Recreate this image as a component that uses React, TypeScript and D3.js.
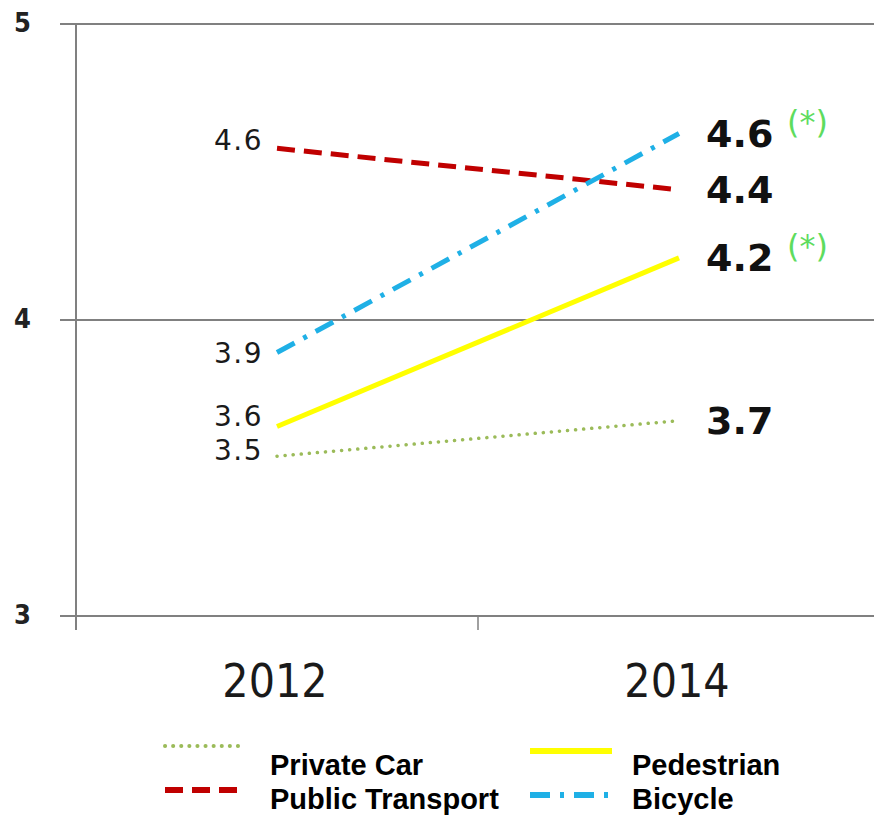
import React from "react";
import * as d3 from "d3";

const years = ["2012", "2014"];
const seriesNames = ["Private Car", "Public Transport", "Pedestrian", "Bicycle"];
const privateCar = [3.54, 3.66];
const publicTransport = [4.58, 4.44];
const pedestrian = [3.64, 4.21];
const bicycle = [3.89, 4.63];
const startLabels = ["3.5", "4.6", "3.6", "3.9"];
const endLabels = ["3.7", "4.4", "4.2", "4.6"];
const endMarks = ["", "", "(*)", "(*)"];
const yTicks = [3, 4, 5];

const seriesValues = [privateCar, publicTransport, pedestrian, bicycle];
const styles = [
  { color: "#9bbb59", width: 3.5, dash: "0.1 8", cap: "round" },
  { color: "#c00000", width: 5, dash: "18 9", cap: "butt" },
  { color: "#ffff00", width: 5, dash: "", cap: "butt" },
  { color: "#1fb0e6", width: 5, dash: "20 10 4 10", cap: "butt" },
];
const startDy = [-6, -8, -10, 1];

export default function App() {
  const W = 874;
  const H = 815;
  const x = d3.scaleBand<string>().domain(years).range([76, 880]);
  const y = d3.scaleLinear().domain([3, 5]).range([616, 24]);
  const line = d3
    .line<number>()
    .x((_, i) => (x(years[i]) as number) + x.bandwidth() / 2)
    .y((d) => y(d));
  const cx = (i: number) => (x(years[i]) as number) + x.bandwidth() / 2;

  return (
    <svg
      width={W}
      height={H}
      style={{ position: "absolute", left: 0, top: 0, background: "#fff" }}
    >
      {yTicks.map((t) => (
        <line key={t} x1={60} x2={W} y1={y(t)} y2={y(t)} stroke="#808080" strokeWidth={2} />
      ))}
      <line x1={76} x2={76} y1={y(5)} y2={630} stroke="#808080" strokeWidth={2} />
      {years.map((yr, i) =>
        i > 0 ? (
          <line key={yr} x1={x(yr) as number} x2={x(yr) as number} y1={616} y2={630} stroke="#808080" strokeWidth={1.5} />
        ) : null
      )}
      {yTicks.map((t) => (
        <text
          key={"l" + t}
          x={14}
          y={y(t) - 2}
          dominantBaseline="central"
          fontFamily="DejaVu Sans Condensed, DejaVu Sans"
          fontWeight="bold"
          fontSize={27}
          fill="#222"
        >
          {t}
        </text>
      ))}
      {years.map((yr) => (
        <text
          key={"x" + yr}
          x={(x(yr) as number) + x.bandwidth() / 2 - 2}
          y={697}
          textAnchor="middle"
          fontFamily="DejaVu Sans Condensed, DejaVu Sans"
          fontSize={46}
          fill="#1a1a1a"
        >
          {yr}
        </text>
      ))}
      {seriesValues.map((vals, s) => (
        <path
          key={seriesNames[s]}
          d={line(vals) as string}
          fill="none"
          stroke={styles[s].color}
          strokeWidth={styles[s].width}
          strokeDasharray={styles[s].dash || undefined}
          strokeLinecap={styles[s].cap as any}
        />
      ))}
      {seriesValues.map((vals, s) => (
        <text
          key={"sl" + s}
          x={263}
          y={y(vals[0]) + startDy[s]}
          textAnchor="end"
          dominantBaseline="central"
          fontFamily="DejaVu Sans"
          fontSize={28}
          letterSpacing={1.5}
          fill="#1a1a1a"
        >
          {startLabels[s]}
        </text>
      ))}
      {seriesValues.map((vals, s) => (
        <g key={"el" + s}>
          <text
            x={cx(1) + 27}
            y={y(vals[1])}
            dominantBaseline="central"
            fontFamily="DejaVu Sans"
            fontWeight="bold"
            fontSize={38}
            fill="#111"
          >
            {endLabels[s]}
          </text>
          {endMarks[s] ? (
            <text
              x={787}
              y={y(vals[1]) - 12}
              dominantBaseline="central"
              fontFamily="DejaVu Sans"
              fontSize={32}
              fill="#5edc5e"
            >
              {endMarks[s]}
            </text>
          ) : null}
        </g>
      ))}
      {seriesNames.map((name, s) => {
        const col = s === 0 || s === 1 ? 0 : 1;
        const row = s === 0 || s === 2 ? 0 : 1;
        const lx = col === 0 ? 165 : 530;
        const tx = col === 0 ? 270 : 632;
        const ly = row === 0 ? 765 : 799;
        const sampleY = row === 0 ? (col === 0 ? 746 : 751) : (col === 0 ? 790 : 795);
        return (
          <g key={"lg" + s}>
            <line
              x1={lx}
              x2={lx + (col === 0 ? 75 : 82)}
              y1={sampleY}
              y2={sampleY}
              stroke={styles[s].color}
              strokeWidth={s === 0 ? 4 : 6}
              strokeDasharray={styles[s].dash || undefined}
              strokeLinecap={styles[s].cap as any}
            />
            <text
              x={tx}
              y={ly}
              dominantBaseline="central"
              fontFamily="Liberation Sans, Arial"
              fontWeight="bold"
              fontSize={29}
              fill="#000"
            >
              {name}
            </text>
          </g>
        );
      })}
    </svg>
  );
}
